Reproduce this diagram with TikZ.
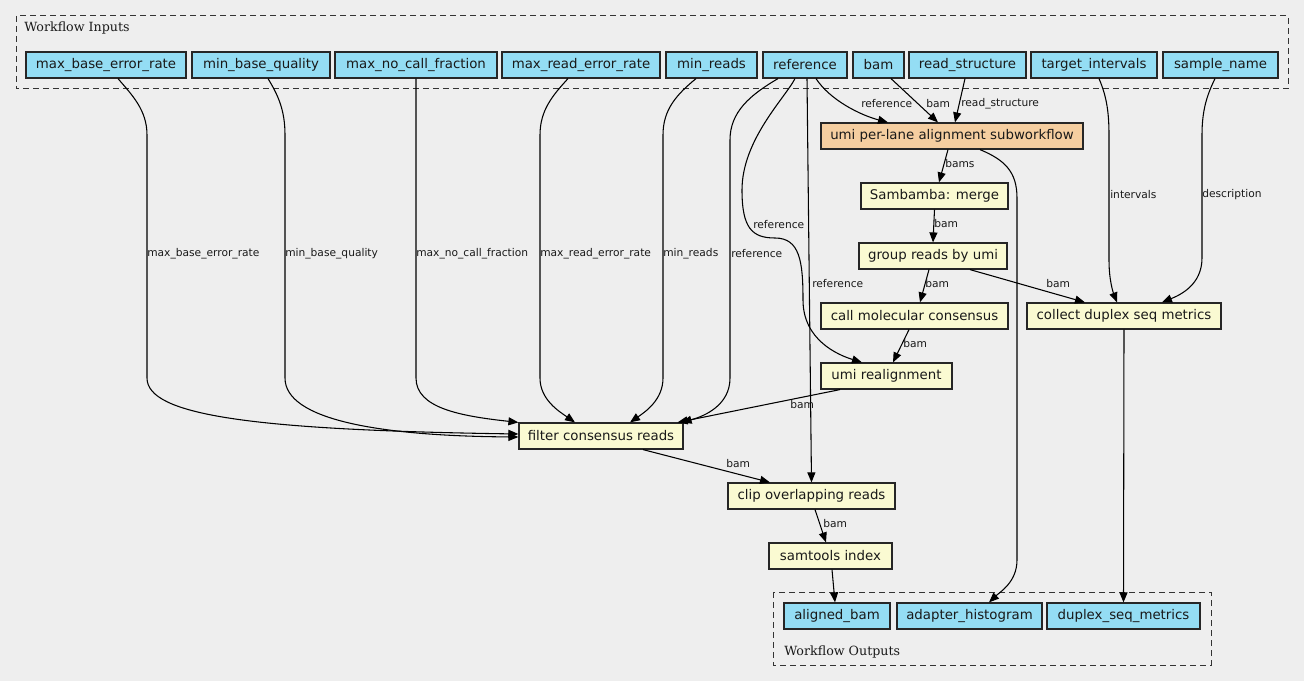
\documentclass[tikz,border=0pt]{standalone}
\usepackage{fontspec}
\setmainfont{DejaVu Sans}
\newfontfamily\clusterfont{DejaVu Serif}
\usetikzlibrary{arrows.meta,calc}
\definecolor{bgc}{RGB}{238,238,238}
\definecolor{inpc}{RGB}{148,221,244}
\definecolor{taskc}{RGB}{250,250,210}
\definecolor{subc}{RGB}{245,206,160}
\definecolor{txtc}{RGB}{25,25,25}
\begin{document}
\begin{tikzpicture}[x=0.75pt,y=-0.75pt,
 box/.style={draw=black!85, line width=0.9pt, minimum height=19.5pt, inner sep=0pt, text=txtc, font=\fontsize{10pt}{12pt}\selectfont},
 inp/.style={box, fill=inpc},
 task/.style={box, fill=taskc},
 sub/.style={box, fill=subc},
 elab/.style={anchor=west, inner sep=0pt, text=txtc, font=\fontsize{8pt}{9.6pt}\selectfont},
 conn/.style={draw=black, line width=0.8pt, -{Triangle[length=7.5pt,width=6pt]}},
 cluster/.style={draw=black!80, line width=0.75pt, dash pattern=on 4.5pt off 3pt},
 clab/.style={anchor=west, inner sep=0pt, text=txtc, font=\clusterfont\fontsize{9.5pt}{11pt}\selectfont}
]
\fill[bgc] (0,0) rectangle (1304,681);
\useasboundingbox (0,0) rectangle (1304,681);

% clusters
\draw[cluster] (16,16) rectangle (1288,89);
\node[clab] (inlab) at (24,28) {Workflow Inputs};
\draw[cluster] (773,592) rectangle (1211,665);
\node[clab] (outlab) at (784,652) {Workflow Outputs};

% inputs
\node[inp, minimum width=120pt] (mber) at (106,65) {max\_base\_error\_rate};
\node[inp, minimum width=103.5pt] (mbq) at (261,65) {min\_base\_quality};
\node[inp, minimum width=121.5pt] (mncf) at (416,65) {max\_no\_call\_fraction};
\node[inp, minimum width=118.5pt] (mrer) at (581,65) {max\_read\_error\_rate};
\node[inp, minimum width=68.25pt] (minr) at (711.5,65) {min\_reads};
\node[inp, minimum width=63pt] (ref) at (805,65) {reference};
\node[inp, minimum width=38.25pt] (bam) at (878.5,65) {bam};
\node[inp, minimum width=87.75pt] (rs) at (967.5,65) {read\_structure};
\node[inp, minimum width=94.5pt] (ti) at (1094,65) {target\_intervals};
\node[inp, minimum width=86.25pt] (sn) at (1220.5,65) {sample\_name};

% tasks
\node[sub, minimum width=196.5pt] (orange) at (952,136) {umi per-lane alignment subworkflow};
\node[task, minimum width=110.25pt] (samb) at (934.5,196) {Sambamba: merge};
\node[task, minimum width=111pt] (group) at (933,256) {group reads by umi};
\node[task, minimum width=140.25pt] (callmol) at (914.5,316) {call molecular consensus};
\node[task, minimum width=145.5pt] (collect) at (1124,316) {collect duplex seq metrics};
\node[task, minimum width=98.25pt] (umireal) at (886.5,376) {umi realignment};
\node[task, minimum width=123pt] (filter) at (601,436) {filter consensus reads};
\node[task, minimum width=125.25pt] (clip) at (811.5,496) {clip overlapping reads};
\node[task, minimum width=92.25pt] (samt) at (830.5,556) {samtools index};

% outputs
\node[inp, minimum width=79.5pt] (abam) at (837,616) {aligned\_bam};
\node[inp, minimum width=108.75pt] (adapt) at (969.5,616) {adapter\_histogram};
\node[inp, minimum width=114.75pt] (dsm) at (1123.5,616) {duplex\_seq\_metrics};

% edges from scalar inputs to filter
\draw[conn] ($(mber.south)+(12,0)$) .. controls (132,95) and (147,110) .. (147,135) -- (147,378)
  .. controls (147,415) and (250,430) .. ($(filter.west)+(0,-2)$);
\draw[conn] ($(mbq.south)+(7,0)$) .. controls (278,95) and (285,110) .. (285,135) -- (285,378)
  .. controls (285,420) and (380,436) .. ($(filter.west)+(0,1)$);
\draw[conn] (mncf.south) -- (416,378) .. controls (416,408) and (460,416) .. (filter.north west);
\draw[conn] ($(mrer.south)+(-13,0)$) .. controls (553,95) and (540,110) .. (540,135) -- (540,378)
  .. controls (540,400) and (560,412) .. ($(filter.north)+(-26,0)$);
\draw[conn] ($(minr.south)+(-15.5,0)$) .. controls (676,95) and (663,110) .. (663,135) -- (663,378)
  .. controls (663,400) and (645,412) .. ($(filter.north)+(29,0)$);
\draw[conn] ($(ref.south)+(-27,0)$) .. controls (750,95) and (730,112) .. (730,140) -- (730,378)
  .. controls (730,405) and (705,416) .. ($(filter.north east)+(-2,0)$);

% reference to others
\draw[conn] ($(ref.south)+(-10,0)$) .. controls (785,98) and (742,140) .. (742,190)
  .. controls (742,228) and (752,238) .. (775,238)
  .. controls (800,238) and (803,262) .. (803,300)
  .. controls (803,340) and (838,355) .. ($(umireal.north)+(-24.5,0)$);
\draw[conn] ($(ref.south)+(2,0)$) -- (clip.north);
\draw[conn] ($(ref.south)+(11,0)$) .. controls (830,100) and (860,115) .. ($(orange.north)+(-64,0)$);
\draw[conn] ($(bam.south)+(12.5,0)$) -- ($(orange.north)+(-14,0)$);
\draw[conn] ($(rs.south)+(-2.5,0)$) -- ($(orange.north)+(3,0)$);

% workflow edges
\draw[conn] ($(orange.south)+(-4,0)$) -- ($(samb.north)+(4.5,0)$);
\draw[conn] ($(orange.south)+(28,0)$) .. controls (1005,160) and (1017,172) .. (1017,198) -- (1017,560)
  .. controls (1017,582) and (1000,592) .. ($(adapt.north)+(19.5,0)$);
\draw[conn] (samb.south) -- (group.north);
\draw[conn] ($(group.south)+(-4,0)$) -- ($(callmol.north)+(5.5,0)$);
\draw[conn] ($(group.south)+(37,0)$) -- ($(collect.north)+(-39,0)$);
\draw[conn] ($(callmol.south)+(-5.5,0)$) -- ($(umireal.north)+(6.5,0)$);
\draw[conn] ($(umireal.south)+(-46.5,0)$) -- ($(filter.north east)+(-6,0)$);
\draw[conn] ($(filter.south)+(42,0)$) -- ($(clip.north)+(-41.5,0)$);
\draw[conn] ($(clip.south)+(3.5,0)$) -- ($(samt.north)+(-4.5,0)$);
\draw[conn] ($(samt.south)+(1.5,0)$) -- ($(abam.north)+(-2,0)$);
\draw[conn] (collect.south) -- (dsm.north);
\draw[conn] ($(ti.south)+(5,0)$) .. controls (1106,95) and (1109,110) .. (1109,135) -- (1109,260)
  .. controls (1109,280) and (1113,292) .. ($(collect.north)+(-7,0)$);
\draw[conn] ($(sn.south)+(-5.5,0)$) .. controls (1207,95) and (1202,110) .. (1202,135) -- (1202,258)
  .. controls (1202,285) and (1180,295) .. ($(collect.north)+(38,0)$);

% edge labels
\node[elab] (l1) at (147,254) {max\_base\_error\_rate};
\node[elab] (l2) at (285,254) {min\_base\_quality};
\node[elab] (l3) at (416,254) {max\_no\_call\_fraction};
\node[elab] (l4) at (540,254) {max\_read\_error\_rate};
\node[elab] (l5) at (663,254) {min\_reads};
\node[elab] (l6) at (731,254) {reference};
\node[elab] (l7) at (753,225) {reference};
\node[elab] (l8) at (812,284) {reference};
\node[elab] (l9) at (861,104) {reference};
\node[elab] (l10) at (926,104) {bam};
\node[elab] (l11) at (961,104) {read\_structure};
\node[elab] (l12) at (945,164) {bams};
\node[elab] (l13) at (934,224) {bam};
\node[elab] (l14) at (925,284) {bam};
\node[elab] (l15) at (1046,284) {bam};
\node[elab] (l16) at (1110,195) {intervals};
\node[elab] (l17) at (1202,195) {description};
\node[elab] (l18) at (903,344) {bam};
\node[elab] (l19) at (790,405) {bam};
\node[elab] (l20) at (726,464) {bam};
\node[elab] (l21) at (823,524) {bam};
\end{tikzpicture}
\end{document}
